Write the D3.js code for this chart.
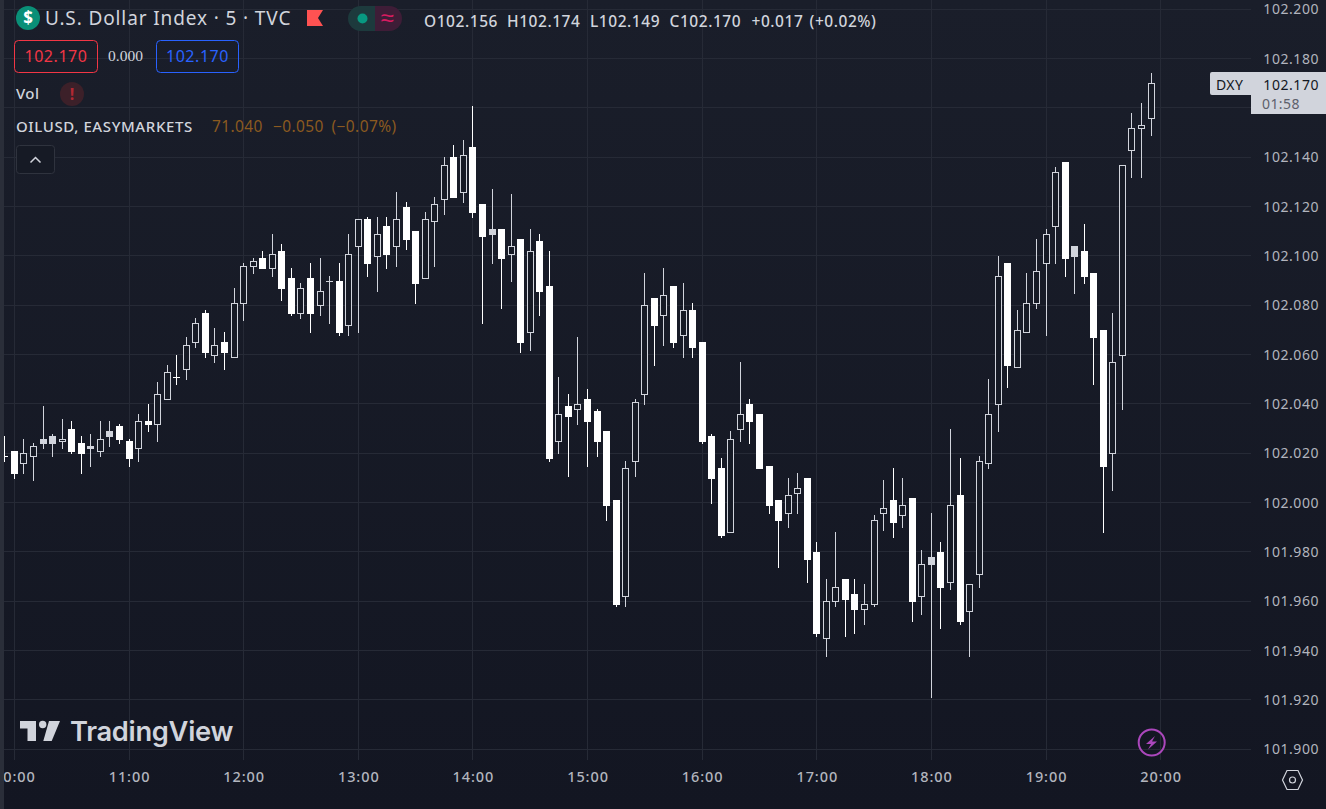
<!DOCTYPE html>
<html>
<head>
<meta charset="utf-8">
<title>DXY 5m</title>
<script src="https://cdn.jsdelivr.net/npm/d3@7"></script>
<style>
  html, body { margin: 0; padding: 0; background: #131622; overflow: hidden; }
  svg { display: block; }
  text { font-family: "Noto Sans", sans-serif; }
  .grid line { stroke: #262a36; stroke-width: 1; shape-rendering: crispEdges; }
  .axis text { fill: #b2b5be; }
  .axis .domain, .axis line { display: none; }
</style>
</head>
<body>
<div id="chart"></div>
<script>
// 5 minute bars, first one is 09:55
const firstBarHour = 9 + 55 / 60;

const opens = [
  102.019,102.021,102.016,102.019,102.026,102.027,102.025,102.030,102.024,102.023,
  102.021,102.029,102.031,102.025,102.022,102.033,102.032,102.042,102.051,102.054,
  102.065,102.077,102.060,102.065,102.059,102.081,102.096,102.099,102.095,102.102,
  102.091,102.077,102.091,102.080,102.090,102.090,102.072,102.104,102.115,102.100,
  102.112,102.104,102.120,102.110,102.091,102.114,102.123,102.140,102.126,102.144,
  102.121,102.111,102.111,102.101,102.107,102.069,102.106,102.088,102.025,102.039,
  102.038,102.042,102.037,102.029,102.001,101.962,102.017,102.044,102.083,102.076,
  102.088,102.068,102.078,102.065,102.027,102.014,101.988,102.030,102.040,102.036,
  102.015,102.001,101.996,102.004,102.010,101.980,101.945,101.960,101.969,101.963,
  101.957,101.959,101.996,102.001,101.995,102.002,101.962,101.978,101.980,101.968,
  102.003,101.956,101.971,102.016,102.040,102.097,102.055,102.069,102.081,102.097,
  102.112,102.138,102.104,102.102,102.093,102.070,102.020,102.060,102.143,102.152,
  102.156
];
const highs = [
  102.027,102.021,102.026,102.024,102.039,102.028,102.034,102.033,102.027,102.028,
  102.033,102.033,102.032,102.026,102.036,102.040,102.049,102.056,102.060,102.067,
  102.075,102.078,102.071,102.069,102.087,102.097,102.099,102.102,102.109,102.105,
  102.095,102.089,102.097,102.099,102.092,102.097,102.109,102.115,102.116,102.116,
  102.116,102.126,102.122,102.110,102.118,102.124,102.140,102.145,102.147,102.161,
  102.121,102.127,102.111,102.125,102.107,102.111,102.109,102.102,102.051,102.044,
  102.067,102.046,102.038,102.029,102.001,102.017,102.042,102.093,102.083,102.095,
  102.088,102.089,102.081,102.065,102.028,102.018,102.029,102.057,102.042,102.036,
  102.015,102.001,102.010,102.012,102.010,101.984,101.969,101.988,101.969,101.969,
  101.967,101.995,102.009,102.014,102.010,102.002,101.981,101.996,101.984,102.030,
  102.018,101.967,102.019,102.050,102.100,102.097,102.078,102.093,102.107,102.111,
  102.136,102.138,102.104,102.113,102.093,102.070,102.077,102.137,102.158,102.162,
  102.174
];
const lows = [
  102.017,102.010,102.012,102.009,102.022,102.019,102.022,102.020,102.012,102.015,
  102.019,102.023,102.024,102.015,102.017,102.029,102.025,102.042,102.048,102.050,
  102.063,102.059,102.057,102.054,102.059,102.074,102.093,102.095,102.092,102.082,
  102.076,102.075,102.069,102.076,102.073,102.068,102.068,102.069,102.092,102.086,
  102.095,102.096,102.103,102.081,102.091,102.096,102.117,102.124,102.122,102.116,
  102.073,102.097,102.079,102.090,102.061,102.062,102.076,102.017,102.020,102.011,
  102.032,102.015,102.019,101.993,101.958,101.958,102.011,102.040,102.056,102.064,
  102.063,102.059,102.059,102.024,102.000,101.986,101.988,102.025,102.024,102.014,
  101.996,101.974,101.990,101.996,101.968,101.946,101.938,101.958,101.946,101.947,
  101.951,101.958,101.989,101.986,101.990,101.952,101.955,101.921,101.949,101.965,
  101.951,101.938,101.966,102.014,102.029,102.047,102.055,102.069,102.079,102.068,
  102.097,102.092,102.085,102.089,102.048,101.988,102.005,102.038,102.132,102.132,
  102.149
];
const closes = [
  102.019,102.012,102.020,102.023,102.024,102.024,102.026,102.021,102.020,102.022,
  102.026,102.027,102.026,102.018,102.033,102.032,102.044,102.053,102.051,102.064,
  102.073,102.061,102.064,102.061,102.081,102.096,102.098,102.095,102.101,102.087,
  102.077,102.087,102.077,102.086,102.090,102.069,102.101,102.115,102.097,102.109,
  102.101,102.115,102.107,102.089,102.115,102.121,102.137,102.124,102.141,102.118,
  102.108,102.109,102.099,102.104,102.065,102.102,102.086,102.018,102.036,102.035,
  102.040,102.033,102.025,101.999,101.959,102.014,102.041,102.080,102.072,102.084,
  102.065,102.078,102.063,102.025,102.010,101.987,102.026,102.036,102.033,102.014,
  101.999,101.993,102.003,102.006,101.977,101.947,101.960,101.966,101.961,101.957,
  101.959,101.993,101.998,101.992,101.999,101.960,101.975,101.975,101.966,101.999,
  101.952,101.967,102.017,102.036,102.092,102.056,102.070,102.081,102.094,102.109,
  102.134,102.099,102.100,102.092,102.067,102.015,102.057,102.137,102.152,102.153,
  102.170
];

const gridPrices = [102.2,102.18,102.16,102.14,102.12,102.1,102.08,102.06,102.04,102.02,102,101.98,101.96,101.94,101.92,101.9];
// 102.160 sits under the last price tag, so it gets a grid line but no label
const priceTicks = gridPrices.filter(d => d !== 102.16);
const hourTicks = [10,11,12,13,14,15,16,17,18,19,20];

const WHITE = "#ffffff", GREY = "#d1d4dc";
const fullW = 1326, fullH = 809;
const paneL = 4, paneR = 1251, paneB = 760;

const svg = d3.select("#chart").append("svg")
  .attr("width", fullW).attr("height", fullH)
  .attr("viewBox", `0 0 ${fullW} ${fullH}`);

const grad = svg.append("defs").append("linearGradient")
  .attr("id", "bg").attr("x1", 0).attr("y1", 0).attr("x2", 0).attr("y2", 1);
grad.append("stop").attr("offset", "0%").attr("stop-color", "#1a1e2a");
grad.append("stop").attr("offset", "100%").attr("stop-color", "#131622");
svg.append("rect").attr("width", fullW).attr("height", fullH).attr("fill", "url(#bg)");

const x = d3.scaleLinear().domain([10, 20]).range([14.4, 1160.64]);
const y = d3.scaleLinear().domain([101.9, 102.2]).range([749.3, 9.3]);

// Grid
const gridX = svg.append("g").attr("class", "grid");
gridX.selectAll("line").data(hourTicks).join("line")
  .attr("x1", d => Math.floor(x(d)) + 0.5).attr("x2", d => Math.floor(x(d)) + 0.5)
  .attr("y1", 0).attr("y2", paneB);
const gridY = svg.append("g").attr("class", "grid");
gridY.selectAll("line").data(gridPrices).join("line")
  .attr("x1", paneL).attr("x2", paneR)
  .attr("y1", d => Math.floor(y(d)) + 0.5).attr("y2", d => Math.floor(y(d)) + 0.5);

// Candles
const bars = opens.map((o, i) => ({
  hour: firstBarHour + i / 12,
  open: o, high: highs[i], low: lows[i], close: closes[i],
  prev: i ? closes[i - 1] : Infinity
}));
const colour = d => d.close >= d.prev ? GREY : WHITE;
const px = d => Math.floor(x(d.hour));

const candles = svg.append("g").attr("shape-rendering", "crispEdges");
candles.selectAll(".wick").data(bars).join("rect")
  .attr("class", "wick")
  .attr("x", d => px(d))
  .attr("y", d => Math.round(y(d.high)))
  .attr("width", 1)
  .attr("height", d => Math.round(y(d.low)) - Math.round(y(d.high)) + 1)
  .attr("fill", colour);

const bodyTop = d => Math.round(y(Math.max(d.open, d.close)));
const bodyH = d => Math.round(y(Math.min(d.open, d.close))) - bodyTop(d) + 1;

candles.selectAll(".solid").data(bars.filter(d => d.close <= d.open)).join("rect")
  .attr("class", "solid")
  .attr("x", d => px(d) - 3)
  .attr("y", bodyTop)
  .attr("width", 7)
  .attr("height", bodyH)
  .attr("fill", colour);

candles.selectAll(".hollow").data(bars.filter(d => d.close > d.open)).join("rect")
  .attr("class", "hollow")
  .attr("x", d => px(d) - 2.5)
  .attr("y", d => bodyTop(d) + 0.5)
  .attr("width", 6)
  .attr("height", d => bodyH(d) - 1)
  .attr("fill", "#161a25")
  .attr("stroke", colour)
  .attr("stroke-width", 1);

// Axes
const priceAxis = svg.append("g").attr("class", "axis")
  .attr("transform", "translate(1319,0)")
  .call(d3.axisLeft(y).tickValues(priceTicks).tickSize(0).tickPadding(0).tickFormat(d3.format(".3f")));
priceAxis.selectAll("text")
  .style("font-size", "14px").style("letter-spacing", "0.55px").attr("text-anchor", "end");

const timeAxis = svg.append("g").attr("class", "axis")
  .attr("transform", "translate(0,772)")
  .call(d3.axisBottom(x).tickValues(hourTicks).tickSize(0).tickPadding(0).tickFormat(d => d + ":00"));
timeAxis.selectAll("text")
  .style("font-size", "14.5px").style("font-weight", 500).style("letter-spacing", "0.9px");

svg.append("rect").attr("x", 0).attr("y", 0).attr("width", paneL).attr("height", fullH).attr("fill", "#2a2e39");

// Header
const label = (tx, ty, str, size, fill, weight) => svg.append("text")
  .attr("x", tx).attr("y", ty).text(str)
  .style("font-size", size + "px").style("font-weight", weight || 400).attr("fill", fill);

svg.append("circle").attr("cx", 28).attr("cy", 18).attr("r", 12).attr("fill", "#0a8f77");
label(28, 24, "$", 17, "#fff", 700).attr("text-anchor", "middle");
label(45, 25, "U.S. Dollar Index · 5 · TVC", 19, "#d1d4dc").style("letter-spacing", "0.88px");
svg.append("path").attr("d", "M307 10H323L318 18L323 26H307Z").attr("fill", "#ff5252");

svg.append("path").attr("d", "M375 6H360.5A12.5 12.5 0 0 0 360.5 31H375Z").attr("fill", "#1d3a3d");
svg.append("path").attr("d", "M375 6H389.5A12.5 12.5 0 0 1 389.5 31H375Z").attr("fill", "#3e1d37");
svg.append("circle").attr("cx", 362.5).attr("cy", 18.5).attr("r", 5).attr("fill", "#089981");
label(387, 26, "≈", 24, "#d81b60", 400).attr("text-anchor", "middle");

const ohlc = [[424, "O102.156"], [507, "H102.174"], [590, "L102.149"], [669.5, "C102.170"], [751.5, "+0.017"], [809.5, "(+0.02%)"]];
ohlc.forEach(([tx, str]) => label(tx, 27, str, 15.5, "#d1d4dc", 500).style("letter-spacing", "0.55px"));

svg.append("rect").attr("x", 14.5).attr("y", 40.5).attr("width", 83).attr("height", 32).attr("rx", 4)
  .attr("fill", "none").attr("stroke", "#f23645");
label(56, 62, "102.170", 16, "#f23645").attr("text-anchor", "middle").style("letter-spacing", "0.55px");
label(108, 61, "0.000", 14, "#d1d4dc").style("font-family", "'Liberation Serif', serif").style("font-size", "15.5px");
svg.append("rect").attr("x", 156.5).attr("y", 40.5).attr("width", 82).attr("height", 32).attr("rx", 4)
  .attr("fill", "none").attr("stroke", "#2962ff");
label(197.5, 62, "102.170", 16, "#2962ff").attr("text-anchor", "middle").style("letter-spacing", "0.55px");

label(16, 99, "Vol", 15, "#d1d4dc", 500).style("letter-spacing", "0.4px");
svg.append("circle").attr("cx", 72).attr("cy", 94).attr("r", 12).attr("fill", "#3c2029");
label(72, 100, "!", 16, "#b22833", 700).attr("text-anchor", "middle");

label(16, 132, "OILUSD, EASYMARKETS", 15, "#d1d4dc", 500).style("letter-spacing", "0.6px");
[[212, "71.040"], [273, "−0.050"], [331.5, "(−0.07%)"]].forEach(([tx, str]) =>
  label(tx, 132, str, 15.5, "#8b5a20").style("letter-spacing", "0.4px"));

svg.append("rect").attr("x", 16.5).attr("y", 145.5).attr("width", 38).attr("height", 28).attr("rx", 3)
  .attr("fill", "#161a25").attr("stroke", "#2f333e");
svg.append("path").attr("d", "M30.5 162.5L35.5 157.5L40.5 162.5").attr("fill", "none").attr("stroke", "#d1d4dc").attr("stroke-width", 1.5);

// Last price tag
svg.append("path").attr("d", "M1212 72H1251V95H1212Q1210 95 1210 93V74Q1210 72 1212 72Z").attr("fill", GREY);
svg.append("rect").attr("x", 1251).attr("y", 72).attr("width", 75).attr("height", 42).attr("fill", GREY);
label(1216, 90, "DXY", 14, "#131722").style("letter-spacing", "0.4px");
label(1319, 90, "102.170", 14, "#131722").attr("text-anchor", "end").style("letter-spacing", "0.55px");
label(1262, 109, "01:58", 14, "#5d606b").style("letter-spacing", "0.4px");

// Watermark
svg.append("path").attr("d", "M20 721H36V741H27.5V728.5H20Z").attr("fill", GREY);
svg.append("circle").attr("cx", 42.7).attr("cy", 724.5).attr("r", 3.7).attr("fill", GREY);
svg.append("path").attr("d", "M49 721H60L51.7 741H43.3Z").attr("fill", GREY);
label(70, 741, "TradingView", 27.3, GREY, 600).style("font-family", "Inter, sans-serif").style("letter-spacing", "-0.3px");

// Bolt + settings
svg.append("circle").attr("cx", 1151.7).attr("cy", 742.5).attr("r", 13).attr("fill", "none").attr("stroke", "#ab47bc").attr("stroke-width", 2);
svg.append("path").attr("d", "M1155 736L1146 744H1151L1148 749.5L1157 741.5H1152Z").attr("fill", "#ab47bc");
svg.append("path").attr("d", "M1287 770.5H1298L1302.5 780L1298 789.5H1287L1282.5 780Z").attr("fill", "none").attr("stroke", "#d1d4dc").attr("stroke-width", 1.2);
svg.append("circle").attr("cx", 1292.5).attr("cy", 780).attr("r", 3).attr("fill", "none").attr("stroke", "#d1d4dc").attr("stroke-width", 1.2);
</script>
</body>
</html>
